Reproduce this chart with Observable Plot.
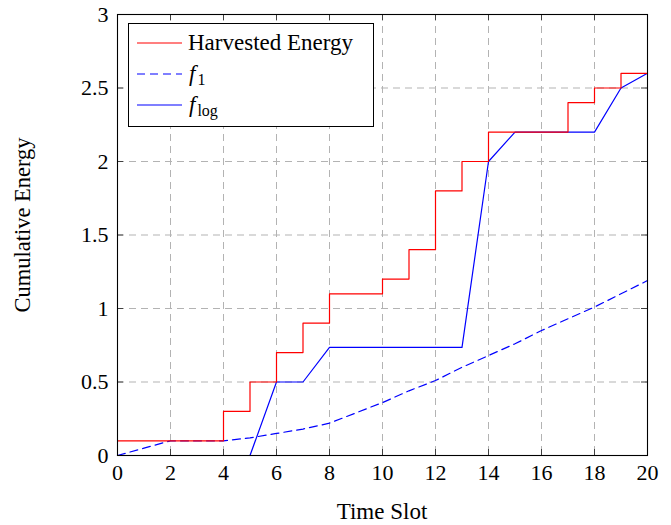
<!DOCTYPE html>
<html><head><meta charset="utf-8">
<script src="https://cdn.jsdelivr.net/npm/d3@7"></script>
<script src="https://cdn.jsdelivr.net/npm/@observablehq/plot@0.6"></script>
<style>
body{margin:0;background:#fff}
#chart{position:relative;width:671px;height:525px}
</style>
</head><body><div id="chart"></div>
<script>
// ---- data ----
const slots = [0,1,2,3,4,5,6,7,8,9,10,11,12,13,14,15,16,17,18,19,20];
const harvested = [0.1,0.1,0.1,0.1,0.3,0.5,0.7,0.9,1.1,1.1,1.2,1.4,1.8,2.0,2.2,2.2,2.2,2.4,2.5,2.6,2.6];
const f1 = [0,0.05,0.1,0.1,0.1,0.12,0.15,0.18,0.22,0.29,0.36,0.44,0.51,0.6,0.68,0.76,0.85,0.93,1.01,1.1,1.19];
const fLog = [0,0,0,0,0,0,0.5,0.5,0.735,0.735,0.735,0.735,0.735,0.735,2.0,2.2,2.2,2.2,2.2,2.5,2.6];
const xTicks = [0,2,4,6,8,10,12,14,16,18,20];
const yTicks = [0,0.5,1,1.5,2,2.5,3];
const yTickLabels = ["0","0.5","1","1.5","2","2.5","3"];
const xLabel = "Time Slot";
const yLabel = "Cumulative Energy";
const seriesNames = ["Harvested Energy", "f1", "flog"];

const W = 671, H = 525;
const mL = 117, mR = 24, mT = 14, mB = 70;
const FONT = "'Liberation Serif', 'Times New Roman', serif";

const rows = slots.map((s, i) => ({s, h: harvested[i], f1: f1[i], fl: fLog[i]}));

// inward tick length (~6px) expressed in data units
const tickY = 6 * 3 / (H - mT - mB);
const tickX = 6 * 20 / (W - mL - mR);

const gridStyle = {stroke: "#b3b3b3", strokeOpacity: 1, strokeWidth: 1, strokeDasharray: "7,5"};
const tickStyle = {stroke: "#404040", strokeWidth: 1};

const plot = Plot.plot({
  width: W, height: H,
  marginLeft: mL, marginRight: mR, marginTop: mT, marginBottom: mB,
  style: {fontFamily: FONT, fontSize: "22px", background: "#fff", color: "#000", overflow: "visible"},
  x: {domain: [0, 20], label: null},
  y: {domain: [0, 3], label: null},
  marks: [
    Plot.gridX(xTicks, gridStyle),
    Plot.gridY(yTicks, gridStyle),
    Plot.ruleX(xTicks, {x: d => d, y1: 0, y2: tickY, ...tickStyle}),
    Plot.ruleX(xTicks, {x: d => d, y1: 3, y2: 3 - tickY, ...tickStyle}),
    Plot.ruleY(yTicks, {y: d => d, x1: 0, x2: tickX, ...tickStyle}),
    Plot.ruleY(yTicks, {y: d => d, x1: 20, x2: 20 - tickX, ...tickStyle}),
    Plot.line(rows, {x: "s", y: "f1", stroke: "#0000ff", strokeWidth: 1.2, strokeDasharray: "8,5"}),
    Plot.line(rows, {x: "s", y: "fl", stroke: "#0000ff", strokeWidth: 1.2}),
    Plot.line(rows, {x: "s", y: "h", stroke: "#ff0000", strokeWidth: 1.2, curve: "step-after"}),
    Plot.frame({stroke: "#000", strokeWidth: 1.1}),
    Plot.axisX(xTicks, {anchor: "bottom", tickSize: 0, tickPadding: 9, label: null, fontSize: 22}),
    Plot.axisY(yTicks, {anchor: "left", tickSize: 0, tickPadding: 9, label: null, fontSize: 22,
      tickFormat: (d) => yTickLabels[yTicks.indexOf(d)]})
  ]
});

document.getElementById("chart").appendChild(plot);

const svg = d3.select(plot);
// axis titles
svg.append("text").attr("x", (mL + W - mR) / 2).attr("y", 519)
  .attr("text-anchor", "middle").style("font-family", FONT).style("font-size", "23px")
  .attr("fill", "#000").text(xLabel);
svg.append("text").attr("transform", "translate(30,225) rotate(-90)")
  .attr("text-anchor", "middle").style("font-family", FONT).style("font-size", "22.5px")
  .attr("fill", "#000").text(yLabel);

// legend
const lg = svg.append("g").style("font-family", FONT).style("font-size", "23px")
  .attr("fill", "#000").attr("text-anchor", "start");
lg.append("rect").attr("x", 128.5).attr("y", 23.5).attr("width", 245).attr("height", 103)
  .attr("fill", "#fff").attr("stroke", "#000").attr("stroke-width", 1);
const rowY = [43, 74, 105];
const sw = [
  {stroke: "#ff0000", dash: null},
  {stroke: "#0000ff", dash: "8,5"},
  {stroke: "#0000ff", dash: null}
];
sw.forEach((d, i) => {
  lg.append("line").attr("x1", 137).attr("x2", 182).attr("y1", rowY[i]).attr("y2", rowY[i])
    .attr("stroke", d.stroke).attr("stroke-width", 1.2).attr("stroke-dasharray", d.dash);
});
lg.append("text").attr("x", 188).attr("y", rowY[0] + 7).attr("text-anchor", "start").text(seriesNames[0]);
const t1 = lg.append("text").attr("x", 189).attr("y", rowY[1] + 7).attr("text-anchor", "start");
t1.append("tspan").attr("font-style", "italic").text("f");
t1.append("tspan").style("font-size", "16px").attr("dy", 4).attr("dx", 2).text("1");
const t2 = lg.append("text").attr("x", 189).attr("y", rowY[2] + 7).attr("text-anchor", "start");
t2.append("tspan").attr("font-style", "italic").text("f");
t2.append("tspan").style("font-size", "16px").attr("dy", 4).attr("dx", 2).text("log");
</script>
</body></html>
